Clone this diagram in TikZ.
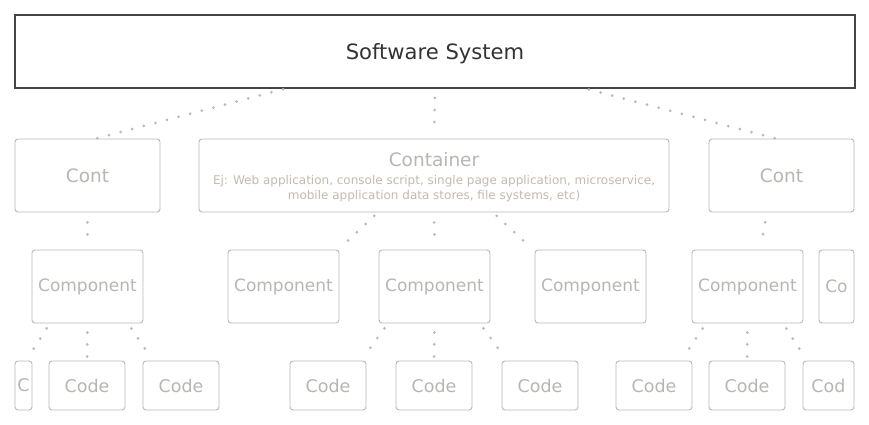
\documentclass[tikz,border=0pt]{standalone}
\usepackage{fontspec}
\setmainfont{DejaVu Sans}
\usetikzlibrary{calc}

\definecolor{boxgray}{HTML}{B8B8B8}
\definecolor{txtgray}{HTML}{B9B5B2}
\definecolor{descgray}{HTML}{C4B9AE}
\definecolor{dotgray}{HTML}{B9B9B9}
\definecolor{sysdark}{HTML}{444444}

\tikzset{
  sysbox/.style={draw=sysdark, line width=2pt, text=black!80, text depth=0pt, minimum width=840pt, minimum height=73pt, font=\fontsize{21.1}{24}\selectfont},
  lightbox/.style={draw=boxgray, line width=0.9pt, rounded corners=3pt, text=txtgray, inner sep=0pt},
  contbox/.style={lightbox, minimum width=145pt, minimum height=73pt, font=\fontsize{18.5}{22}\selectfont},
  compbox/.style={lightbox, minimum width=111pt, minimum height=73pt, font=\fontsize{17}{20}\selectfont},
  codebox/.style={lightbox, minimum width=76pt, minimum height=49pt, font=\fontsize{17.5}{20}\selectfont},
  link/.style={dotgray, line width=3pt, line cap=round, dash pattern=on 0pt off 12pt, shorten <=6pt, shorten >=4pt}
}

\begin{document}
\begin{tikzpicture}[x=1pt, y=-1pt]
      \useasboundingbox (0,0) rectangle (869,425);

      % top level
      \node[sysbox] (sys) at (435,51.5) {Software System};

      % containers
      \node[contbox] (contL) at (87.5,175.5) {Cont};
      \node[contbox, minimum width=470pt] (cont) at (434,175.5) {};
      \node[text=txtgray, font=\fontsize{18.5}{22}\selectfont] (contT) at (434,160) {Container};
      \node[text=descgray, align=center, font=\fontsize{12}{15}\selectfont] (contD) at (434,188.5)
        {Ej: Web application, console script, single page application, microservice,\\mobile application data stores, file systems, etc)};
      \node[contbox] (contR) at (781.5,175.5) {Cont};

      % components
      \node[compbox] (compA) at (87.5,286.5) {Component};
      \node[compbox] (compB) at (283.5,286.5) {Component};
      \node[compbox] (compC) at (434.5,286.5) {Component};
      \node[compbox] (compD) at (590.5,286.5) {Component};
      \node[compbox] (compE) at (747.5,286.5) {Component};
      \node[compbox, minimum width=35pt] (compF) at (836.5,286.5) {Co};

      % code
      \node[codebox, minimum width=17pt] (code0) at (23.5,385.5) {C};
      \node[codebox] (code1) at (87,385.5) {Code};
      \node[codebox] (code2) at (181,385.5) {Code};
      \node[codebox] (code3) at (328,385.5) {Code};
      \node[codebox] (code4) at (434,385.5) {Code};
      \node[codebox] (code5) at (540,385.5) {Code};
      \node[codebox] (code6) at (654,385.5) {Code};
      \node[codebox] (code7) at (747,385.5) {Code};
      \node[codebox, minimum width=51pt] (code8) at (828.5,385.5) {Cod};

      % dotted links
      \draw[link, shorten <=1pt, shorten >=1pt] ([xshift=-151pt]sys.south) -- ([xshift=8.5pt]contL.north);
      \draw[link, shorten <=9pt, shorten >=5pt] (sys.south) -- (cont.north);
      \draw[link, shorten <=2pt, shorten >=1pt] ([xshift=152pt]sys.south) -- ([xshift=-5.5pt]contR.north);

      \draw[link, shorten <=10pt] (contL.south) -- (compA.north);
      \draw[link, shorten <=5pt] ([xshift=-56pt]cont.south) -- ([xshift=55pt]compB.north);
      \draw[link, shorten <=10pt] (cont.south) -- (compC.north);
      \draw[link, shorten <=5pt] ([xshift=59pt]cont.south) -- ([xshift=-57.5pt]compD.north);
      \draw[link, shorten <=10pt] ([xshift=-14.5pt]contR.south) -- ([xshift=12.5pt]compE.north);

      \draw[link] ([xshift=-37.5pt]compA.south) -- ([xshift=2.5pt]code0.north);
      \draw[link, shorten <=9pt] (compA.south) -- (code1.north);
      \draw[link] ([xshift=40.5pt]compA.south) -- ([xshift=-28pt]code2.north);

      \draw[link] ([xshift=-46.5pt]compC.south) -- ([xshift=33pt]code3.north);
      \draw[link, shorten <=9pt] (compC.south) -- (code4.north);
      \draw[link] ([xshift=45.5pt]compC.south) -- ([xshift=-33pt]code5.north);

      \draw[link] ([xshift=-41.5pt]compE.south) -- ([xshift=27pt]code6.north);
      \draw[link, shorten <=9pt] (compE.south) -- (code7.north);
      \draw[link] ([xshift=35.5pt]compE.south) -- ([xshift=-21.5pt]code8.north);
\end{tikzpicture}
\end{document}
